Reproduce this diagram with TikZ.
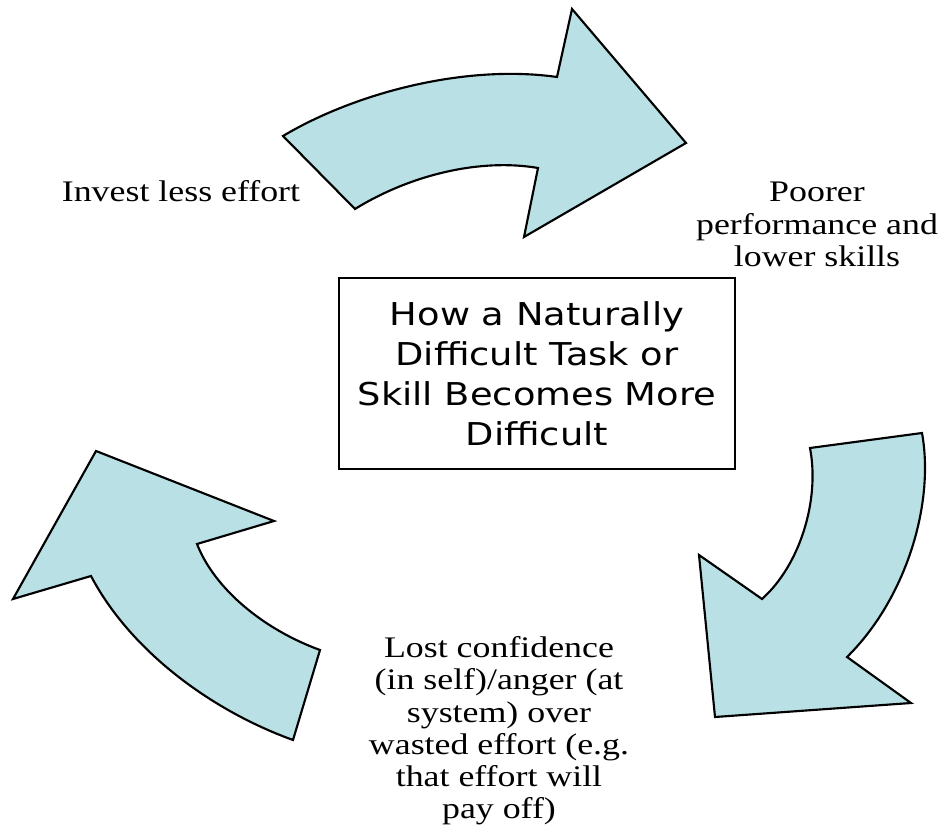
\documentclass[tikz,border=0pt]{standalone}
\usepackage{fontspec}
\usepackage{xcolor}
\setmainfont{Liberation Serif}[FakeStretch=1.2]
\newfontfamily\boxfont{DejaVu Sans}[FakeStretch=1.17]
\definecolor{arrowblue}{RGB}{185,224,228}

\begin{document}
\begin{tikzpicture}[x=0.75pt, y=-0.75pt,
    cyclearrow/.style={draw=black, line width=1.6pt, line join=miter, fill=arrowblue},
    steptext/.style={inner sep=0pt, align=center, font=\fontsize{22.4}{24.2}\selectfont},
    titlebox/.style={draw=black, line width=1.4pt, minimum width=297pt, minimum height=143pt,
        inner sep=0pt, align=center, font=\boxfont\fontsize{23.6}{30}\selectfont}]
    \useasboundingbox (0,0) rectangle (946,837);

    %% top arrow
    \draw[cyclearrow] (283,136) .. controls (355,93) and (465,64) .. (557,77)
        -- (572,9) -- (686,143) -- (524,237) -- (538,168)
        .. controls (480,158) and (410,175) .. (355,209) -- cycle;

    %% right arrow
    \draw[cyclearrow] (810,448) -- (922,433)
        .. controls (935,505) and (905,600) .. (847,657)
        -- (911,703) -- (715,717) -- (699,555) -- (762,599)
        .. controls (800,565) and (820,500) .. (810,448) -- cycle;

    %% left arrow
    \draw[cyclearrow] (293,740) .. controls (210,710) and (130,650) .. (91,576)
        -- (13,599) -- (96,451) -- (274,521) -- (197,544)
        .. controls (215,590) and (265,630) .. (320,650) -- cycle;

    %% middle box
    \node[titlebox] (title) at (537,373.5)
        {How a Naturally\\Difficult Task or\\Skill Becomes More\\Difficult};

    %% steps
    \node[steptext, anchor=base] (invest) at (181,202) {Invest less effort};
    \node[steptext] (poorer) at (817,224.5) {Poorer\\performance and\\lower skills};
    \node[steptext] (lost) at (499,731)
        {Lost confidence\\(in self)/anger (at\\system) over\\wasted effort (e.g.\\that effort will\\pay off)};
\end{tikzpicture}
\end{document}
